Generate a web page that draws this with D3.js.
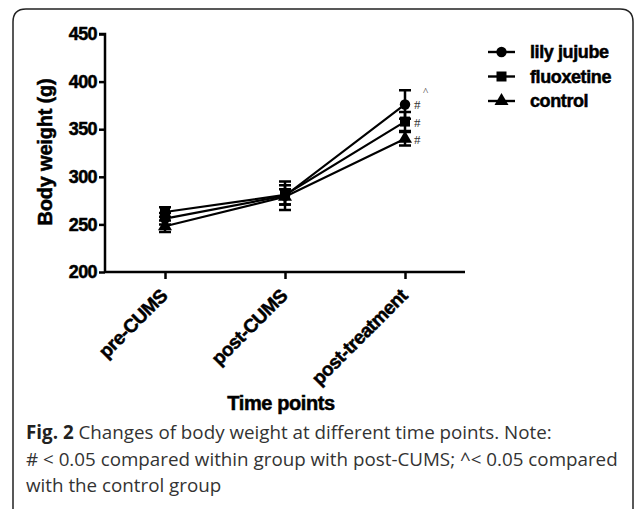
<!DOCTYPE html>
<html>
<head>
<meta charset="utf-8">
<script src="https://cdn.jsdelivr.net/npm/d3@7"></script>
<style>
  body { margin: 0; background: #fff; }
  svg { display: block; }
</style>
</head>
<body>
<svg id="chart" width="634" height="509"></svg>
<script>
// time points on the x axis
const timePoints = ["pre-CUMS", "post-CUMS", "post-treatment"];
const yTicks = [200, 250, 300, 350, 400, 450];

// group means (g) and SEM
const lilyJujube = [256, 280, 376];
const lilyErr = [6, 15, 15];
const fluoxetine = [263, 281, 358];
const fluoxErr = [5, 10, 10];
const control = [248, 279, 340];
const controlErr = [6, 8, 7];

const groups = [
    { name: "lily jujube", values: lilyJujube, err: lilyErr, symbol: d3.symbolCircle, size: 85, marks: "#", extra: "^" },
    { name: "fluoxetine", values: fluoxetine, err: fluoxErr, symbol: d3.symbolSquare, size: 100, marks: "#", extra: "" },
    { name: "control", values: control, err: controlErr, symbol: d3.symbolTriangle, size: 85, marks: "#", extra: "" }
];

const captionLines = [
    [{ t: "Fig. 2", b: true }, { t: " Changes of body weight at different time points. Note:", b: false }],
    [{ t: "# < 0.05 compared within group with post-CUMS; ^< 0.05 compared", b: false }],
    [{ t: "with the control group", b: false }]
];

const svg = d3.select("#chart");
const plotFont = "'Liberation Sans', Arial, sans-serif";

// bold plot text, a little heavier like the original
function boldText(sel, size, spacing) {
    sel.attr("font-family", plotFont)
        .attr("font-weight", "bold")
        .attr("font-size", size)
        .attr("letter-spacing", spacing)
        .attr("fill", "#000")
        .attr("stroke", "#000")
        .attr("stroke-width", 0.5);
}

// frame round the figure
svg.append("path")
    .attr("d", "M13,512 L13,22 Q13,9 26,9 L620,9 Q633,9 633,22 L633,512")
    .attr("fill", "none")
    .attr("stroke", "#222")
    .attr("stroke-width", 1.5);

const x = d3.scalePoint().domain(timePoints).range([105, 465]).padding(0.5);
const y = d3.scaleLinear().domain([200, 450]).range([272, 34]);

// y axis
const yAxis = svg.append("g")
    .attr("transform", "translate(105,0)")
    .call(d3.axisLeft(y).tickValues(yTicks).tickSize(6).tickPadding(2));
yAxis.select(".domain").attr("stroke-width", 2.5).attr("d", `M-6,${y(450)}H0V${y(200)}`);
yAxis.selectAll(".tick line").attr("stroke-width", 2.5);
yAxis.selectAll(".tick text").call(boldText, 18, -0.6);

// x axis
const xAxis = svg.append("g")
    .attr("transform", `translate(0,${y(200)})`)
    .call(d3.axisBottom(x).tickSize(7).tickSizeOuter(0));
xAxis.select(".domain").attr("stroke-width", 2.5).attr("d", "M105,0H465");
xAxis.selectAll(".tick line").attr("stroke-width", 2.5);
xAxis.selectAll(".tick text")
    .call(boldText, 19, -0.5)
    .attr("text-anchor", "end")
    .attr("dy", "0")
    .attr("transform", "translate(-4,18) rotate(-45)");

// axis titles
svg.append("text")
    .attr("transform", "translate(52,152) rotate(-90)")
    .attr("text-anchor", "middle")
    .call(boldText, 20, -0.2)
    .text("Body weight (g)");

svg.append("text")
    .attr("x", 281)
    .attr("y", 410)
    .attr("text-anchor", "middle")
    .call(boldText, 20, -0.4)
    .text("Time points");

// lines, error bars, markers
const line = d3.line()
    .x((d, i) => x(timePoints[i]))
    .y(d => y(d));

const g = svg.append("g");
groups.forEach(grp => {
    g.append("path")
        .datum(grp.values)
        .attr("d", line)
        .attr("fill", "none")
        .attr("stroke", "#000")
        .attr("stroke-width", 2.2);

    grp.values.forEach((v, i) => {
        let cx = x(timePoints[i]);
        let e = grp.err[i];
        g.append("path")
            .attr("d", `M${cx},${y(v - e)}V${y(v + e)}M${cx - 6},${y(v - e)}H${cx + 6}M${cx - 6},${y(v + e)}H${cx + 6}`)
            .attr("stroke", "#000")
            .attr("stroke-width", 2.5)
            .attr("fill", "none");
        g.append("path")
            .attr("d", d3.symbol().type(grp.symbol).size(grp.size)())
            .attr("transform", `translate(${cx},${y(v)})`)
            .attr("fill", "#000");
    });

    // significance marks at post-treatment
    let last = grp.values.length - 1;
    svg.append("text")
        .attr("x", x(timePoints[last]) + 9)
        .attr("y", y(grp.values[last]) + 5)
        .attr("font-family", "'Liberation Serif', serif")
        .attr("font-size", 13)
        .attr("fill", "#333")
        .text(grp.marks);
    if (grp.extra) {
        svg.append("text")
            .attr("x", x(timePoints[last]) + 18)
            .attr("y", y(grp.values[last]) - 9)
            .attr("font-family", "'Liberation Serif', serif")
            .attr("font-size", 11)
            .attr("fill", "#333")
            .text(grp.extra);
    }
});

// legend
const legend = svg.append("g").attr("transform", "translate(488,52)");
groups.forEach((grp, i) => {
    let row = legend.append("g").attr("transform", `translate(0,${i * 24.5})`);
    row.append("line")
        .attr("x1", 0).attr("x2", 27)
        .attr("stroke", "#000").attr("stroke-width", 2.4);
    row.append("path")
        .attr("d", d3.symbol().type(grp.symbol).size(grp.size)())
        .attr("transform", "translate(13.5,0)")
        .attr("fill", "#000");
    row.append("text")
        .attr("x", 42)
        .attr("y", 6)
        .call(boldText, 18, -0.4)
        .text(grp.name);
});

// caption
const cap = svg.append("g");
captionLines.forEach((parts, i) => {
    let t = cap.append("text")
        .attr("x", 26)
        .attr("y", 439 + i * 26.5)
        .attr("font-family", "'Open Sans', 'Noto Sans', sans-serif")
        .attr("font-size", 18.8)
        .attr("fill", "#333");
    parts.forEach(p => {
        t.append("tspan")
            .attr("font-weight", p.b ? "bold" : "normal")
            .attr("fill", p.b ? "#222" : "#333")
            .text(p.t);
    });
});
</script>
</body>
</html>
